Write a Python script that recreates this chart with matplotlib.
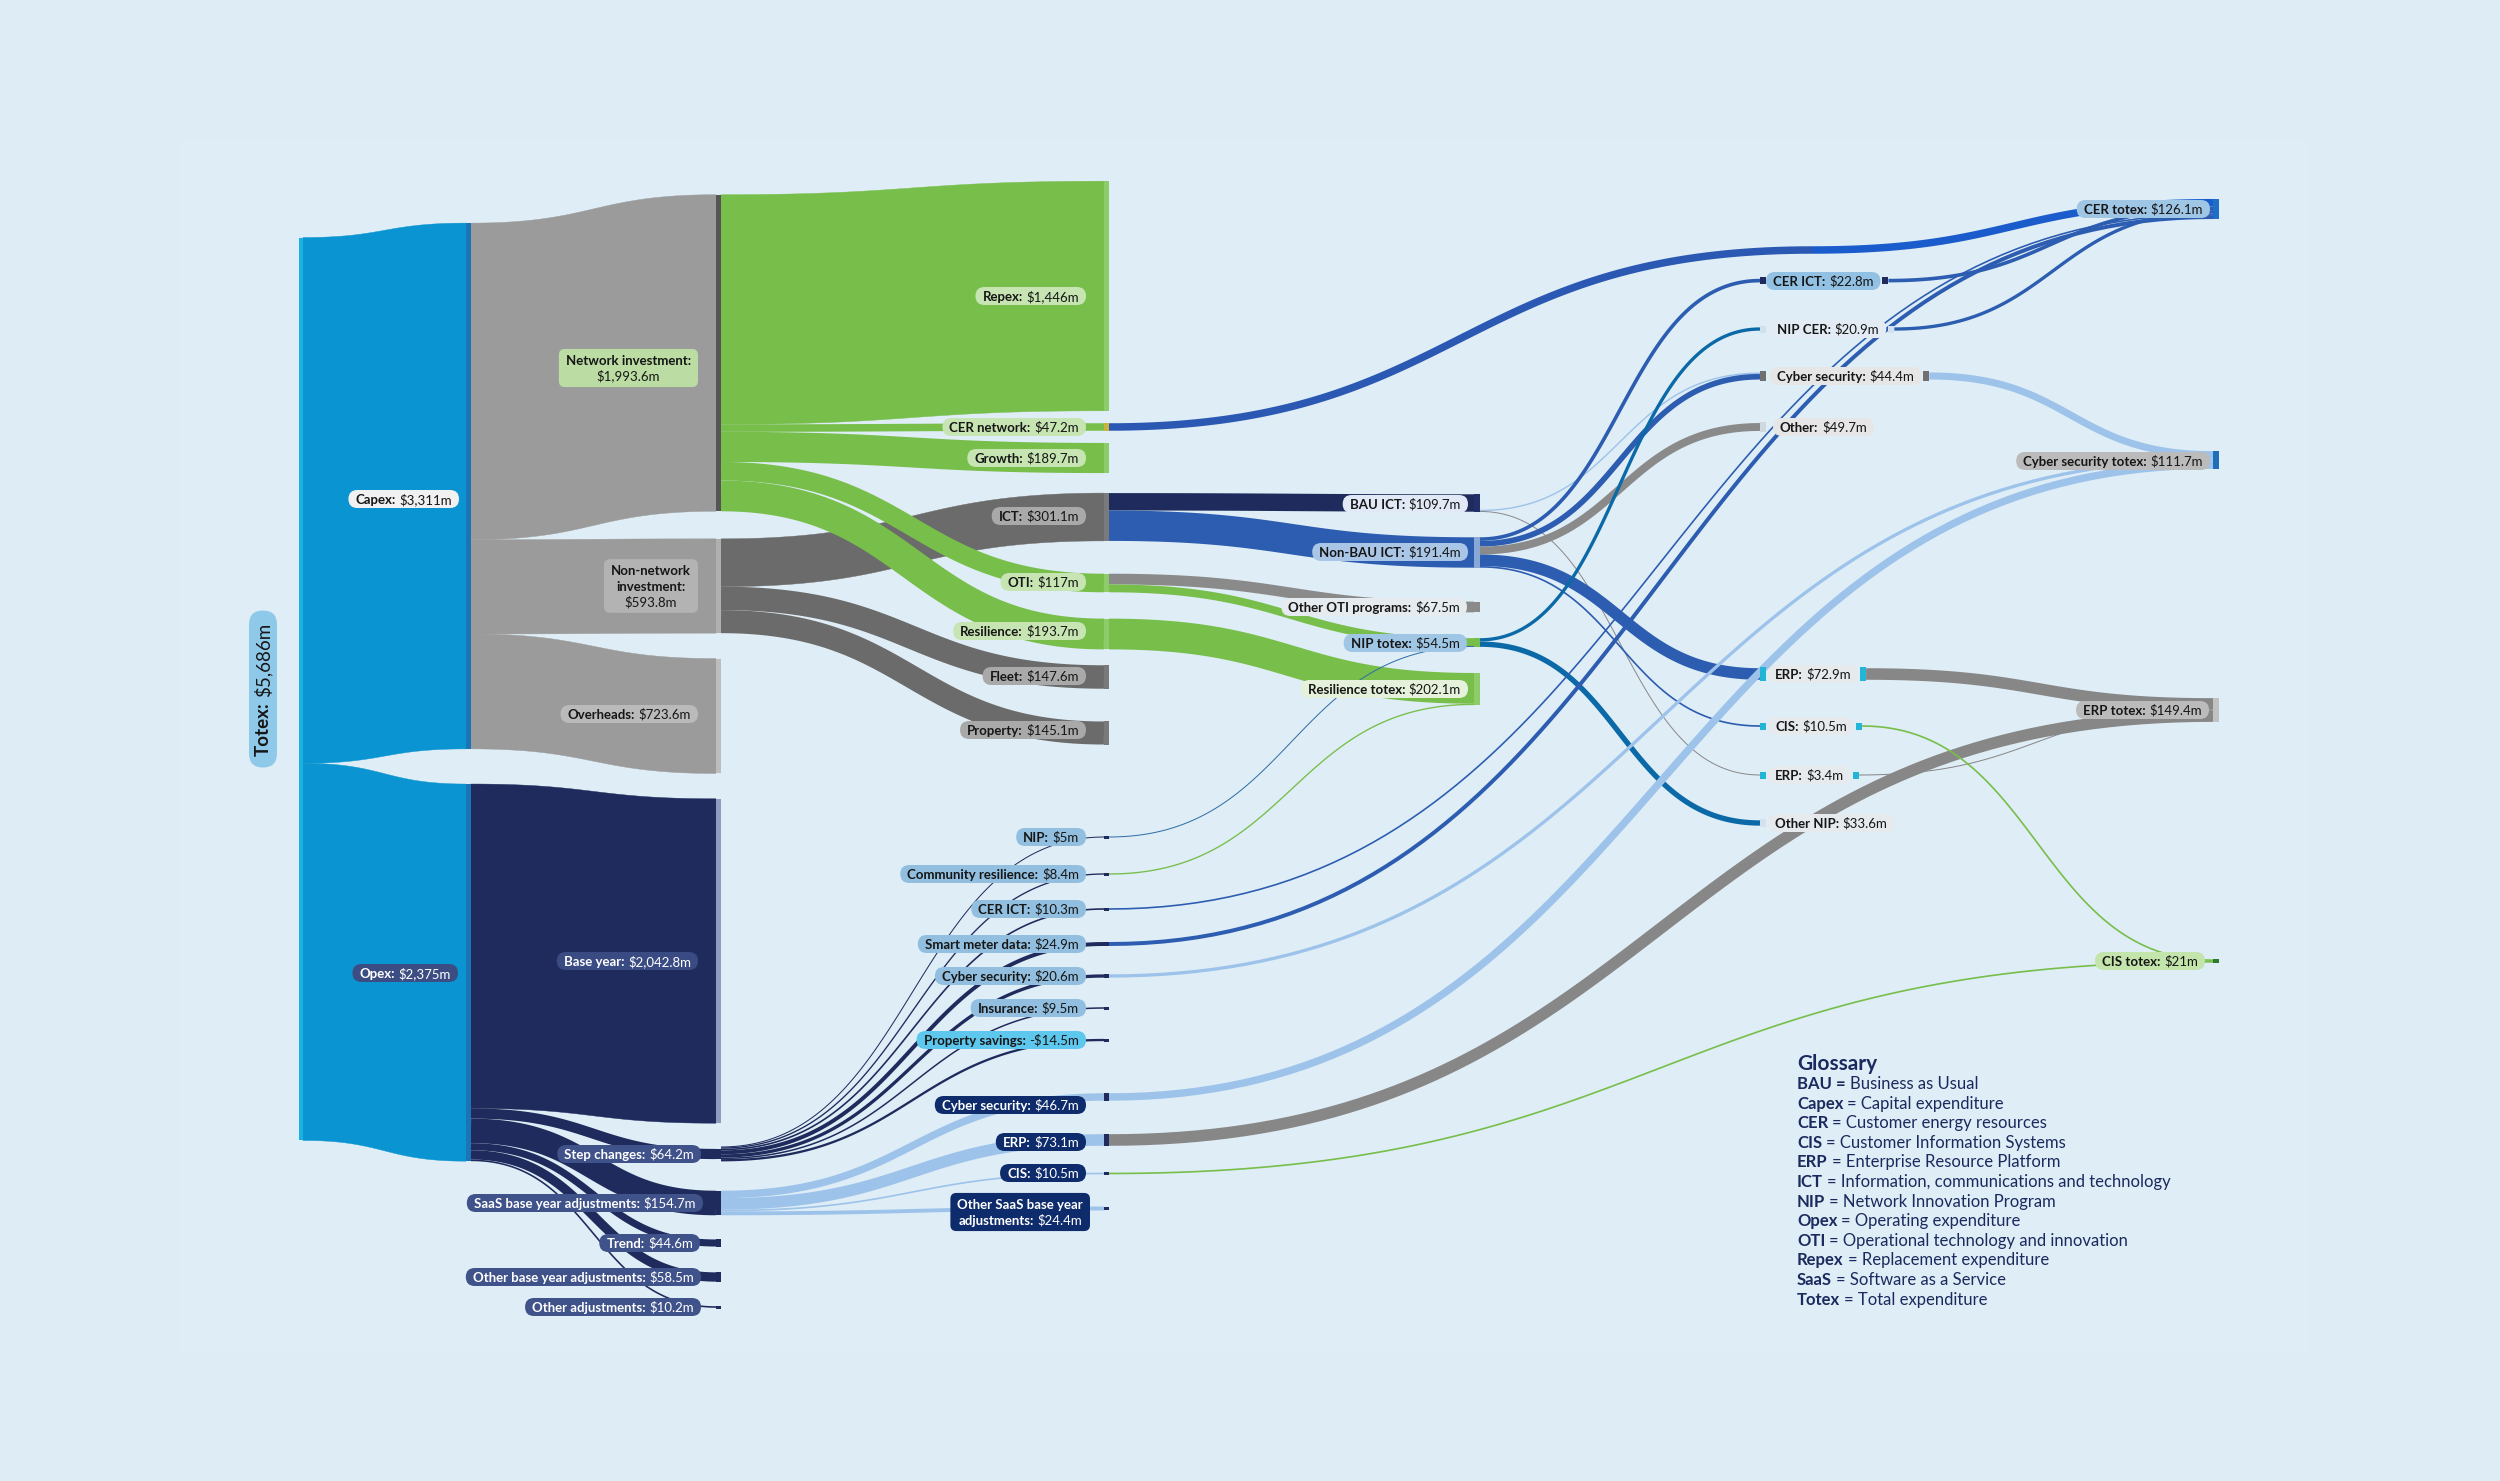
import numpy as np
import matplotlib
matplotlib.use('Agg')
import matplotlib.pyplot as plt
from matplotlib.patches import FancyBboxPatch, Rectangle

plt.rcParams['font.family'] = ['Lato', 'DejaVu Sans']

# ---------------- data ----------------
node_ids = ['totex', 'capex', 'opex',
            'netinv', 'nonnet', 'overheads', 'baseyear', 'step', 'saas', 'trend', 'otherbase', 'otheradj',
            'repex', 'cernet', 'growth', 'ict', 'oti', 'resil', 'fleet', 'property',
            'nip5', 'commres', 'cerict_s', 'smart', 'cyber_s', 'insurance', 'propsav',
            'cyber_saas', 'erp_saas', 'cis_saas', 'othersaas',
            'bau', 'nonbau', 'otheroti', 'niptotex', 'restotex',
            'cerict', 'nipcer', 'cyber_ict', 'other_ict', 'erp_ict', 'cis_ict', 'erp_bau', 'othernip',
            'certotex', 'cybertotex', 'erptotex', 'cistotex']
node_names = ['Totex', 'Capex', 'Opex',
              'Network investment', 'Non-network investment', 'Overheads', 'Base year', 'Step changes',
              'SaaS base year adjustments', 'Trend', 'Other base year adjustments', 'Other adjustments',
              'Repex', 'CER network', 'Growth', 'ICT', 'OTI', 'Resilience', 'Fleet', 'Property',
              'NIP', 'Community resilience', 'CER ICT', 'Smart meter data', 'Cyber security', 'Insurance',
              'Property savings',
              'Cyber security', 'ERP', 'CIS', 'Other SaaS base year adjustments',
              'BAU ICT', 'Non-BAU ICT', 'Other OTI programs', 'NIP totex', 'Resilience totex',
              'CER ICT', 'NIP CER', 'Cyber security', 'Other', 'ERP', 'CIS', 'ERP', 'Other NIP',
              'CER totex', 'Cyber security totex', 'ERP totex', 'CIS totex']
node_values = [5686, 3311, 2375,
               1993.6, 593.8, 723.6, 2042.8, 64.2, 154.7, 44.6, 58.5, 10.2,
               1446, 47.2, 189.7, 301.1, 117, 193.7, 147.6, 145.1,
               5, 8.4, 10.3, 24.9, 20.6, 9.5, -14.5,
               46.7, 73.1, 10.5, 24.4,
               109.7, 191.4, 67.5, 54.5, 202.1,
               22.8, 20.9, 44.4, 49.7, 72.9, 10.5, 3.4, 33.6,
               126.1, 111.7, 149.4, 21]

link_src = ['totex', 'totex',
            'capex', 'capex', 'capex',
            'opex', 'opex', 'opex', 'opex', 'opex', 'opex',
            'nonnet', 'nonnet', 'nonnet',
            'netinv', 'netinv', 'netinv', 'netinv', 'netinv',
            'step', 'step', 'step', 'step', 'step', 'step', 'step',
            'saas', 'saas', 'saas', 'saas',
            'ict', 'ict',
            'oti', 'oti', 'resil', 'commres', 'nip5',
            'bau', 'bau',
            'nonbau', 'nonbau', 'nonbau', 'nonbau', 'nonbau',
            'niptotex', 'niptotex',
            'cernet', 'cerict', 'nipcer', 'cerict_s', 'smart',
            'cyber_ict', 'cyber_s', 'cyber_saas',
            'erp_ict', 'erp_bau', 'erp_saas',
            'cis_ict', 'cis_saas']
link_dst = ['capex', 'opex',
            'netinv', 'nonnet', 'overheads',
            'baseyear', 'step', 'saas', 'trend', 'otherbase', 'otheradj',
            'ict', 'fleet', 'property',
            'repex', 'cernet', 'growth', 'oti', 'resil',
            'nip5', 'commres', 'cerict_s', 'smart', 'cyber_s', 'insurance', 'propsav',
            'cyber_saas', 'erp_saas', 'cis_saas', 'othersaas',
            'bau', 'nonbau',
            'otheroti', 'niptotex', 'restotex', 'restotex', 'niptotex',
            'cyber_ict', 'erp_bau',
            'cerict', 'cyber_ict', 'other_ict', 'erp_ict', 'cis_ict',
            'nipcer', 'othernip',
            'certotex', 'certotex', 'certotex', 'certotex', 'certotex',
            'cybertotex', 'cybertotex', 'cybertotex',
            'erptotex', 'erptotex', 'erptotex',
            'cistotex', 'cistotex']
link_val = [3311, 2375,
            1993.6, 593.8, 723.6,
            2042.8, 64.2, 154.7, 44.6, 58.5, 10.2,
            301.1, 147.6, 145.1,
            1446, 47.2, 189.7, 117, 193.7,
            5, 8.4, 10.3, 24.9, 20.6, 9.5, 14.5,
            46.7, 73.1, 10.5, 24.4,
            109.7, 191.4,
            67.5, 49.5, 193.7, 8.4, 5,
            8.9, 3.4,
            22.8, 35.5, 49.7, 72.9, 10.5,
            20.9, 33.6,
            47.2, 22.8, 20.9, 10.3, 24.9,
            44.4, 20.6, 46.7,
            72.9, 3.4, 73.1,
            10.5, 10.5]

glossary_terms = ['BAU =', 'Capex', 'CER', 'CIS', 'ERP', 'ICT', 'NIP', 'Opex', 'OTI', 'Repex', 'SaaS', 'Totex']
glossary_defs = ['Business as Usual', '= Capital expenditure', '= Customer energy resources',
                 '= Customer Information Systems', '= Enterprise Resource Platform',
                 '= Information, communications and technology', '= Network Innovation Program',
                 '= Operating expenditure', '= Operational technology and innovation',
                 '= Replacement expenditure', '= Software as a Service', '= Total expenditure']

# ---------------- layout / style ----------------
W, H_PX, DPI = 2500, 1481, 100
BG = '#ddecf5'
SCALE = 0.1588          # pixels per $m
col_x = [299, 466, 716, 1104, 1474, 1760, 2213]
col_w = [4, 5, 5, 5, 6, 6, 6]

node_col = {}
for n in ['totex']: node_col[n] = 0
for n in ['capex', 'opex']: node_col[n] = 1
for n in node_ids[3:12]: node_col[n] = 2
for n in node_ids[12:31]: node_col[n] = 3
for n in node_ids[31:36]: node_col[n] = 4
for n in node_ids[36:44]: node_col[n] = 5
for n in node_ids[44:]: node_col[n] = 6

node_cy = {'totex': 689, 'capex': 486, 'opex': 972.6,
           'netinv': 353, 'nonnet': 586, 'overheads': 716, 'baseyear': 961, 'step': 1154,
           'saas': 1203, 'trend': 1243, 'otherbase': 1277, 'otheradj': 1307,
           'repex': 296, 'cernet': 427, 'growth': 458, 'ict': 517, 'oti': 583, 'resil': 634,
           'fleet': 677, 'property': 733,
           'nip5': 837, 'commres': 874, 'cerict_s': 909, 'smart': 944, 'cyber_s': 976,
           'insurance': 1008, 'propsav': 1040,
           'cyber_saas': 1097, 'erp_saas': 1140, 'cis_saas': 1173.5, 'othersaas': 1208.5,
           'bau': 503, 'nonbau': 552.5, 'otheroti': 607, 'niptotex': 642.5, 'restotex': 689,
           'cerict': 280.6, 'nipcer': 329, 'cyber_ict': 376, 'other_ict': 427, 'erp_ict': 674,
           'cis_ict': 726, 'erp_bau': 775, 'othernip': 823,
           'certotex': 209, 'cybertotex': 460, 'erptotex': 710, 'cistotex': 961}
out_align = {'step': 'center', 'bau': 'bottom'}
# long link routed through a point past col5: (x_enter, x_leave, y_centre, colour after it)
waypoint = {('cernet', 'certotex'): (1812, 1812, 250, '#1b5ccc')}

NAVY = '#1f2b5c'
node_color = {'totex': '#19b1e2', 'capex': '#1b74b6', 'opex': '#1b74b6',
              'netinv': '#555555', 'nonnet': '#b0b0b0', 'overheads': '#bdbdbd', 'baseyear': '#8e9cbf',
              'repex': '#8dcc68', 'cernet': '#c8b540', 'growth': '#8dcc68', 'oti': '#8dcc68',
              'resil': '#8dcc68', 'ict': '#7a7a7a', 'fleet': '#7a7a7a', 'property': '#7a7a7a',
              'bau': '#22306a', 'nonbau': '#8aa8d6', 'otheroti': '#8a8a8a', 'niptotex': '#77be4a',
              'restotex': '#8dcc68',
              'cerict': NAVY, 'nipcer': '#cfe0ef', 'cyber_ict': '#707070', 'other_ict': '#cfd8de',
              'erp_ict': '#22b5d5', 'cis_ict': '#22b5d5', 'erp_bau': '#22b5d5', 'othernip': '#d3e2ee',
              'certotex': '#1f6fc8', 'cybertotex': '#1f6fb8', 'erptotex': '#c2c2c2', 'cistotex': '#2d7a2d'}

GREEN, LBLUE, BLUE, GREY = '#77be4a', '#9dc3ea', '#2c5db1', '#878787'
src_color = {'totex': '#0a95d2', 'capex': '#9b9b9b', 'opex': NAVY, 'netinv': GREEN, 'nonnet': '#6b6b6b',
             'step': NAVY, 'saas': LBLUE, 'niptotex': '#0b69a7', 'nonbau': BLUE,
             'resil': GREEN, 'commres': GREEN, 'nip5': '#2f6ea5'}
dst_color = {'certotex': BLUE, 'cybertotex': LBLUE, 'erptotex': GREY, 'cistotex': GREEN}
pair_color = {('ict', 'bau'): NAVY, ('ict', 'nonbau'): BLUE, ('oti', 'otheroti'): '#8a8a8a',
              ('oti', 'niptotex'): GREEN, ('nonbau', 'other_ict'): '#8a8a8a',
              ('bau', 'cyber_ict'): LBLUE, ('bau', 'erp_bau'): '#8a8a8a', ('cernet', 'certotex'): '#2a58b2'}

DARK, WHITE = '#161616', 'white'
PGREEN, PGREY, PBLUE, PNAVY, PSTEP = '#c7e5b2', '#a9a9a9', '#92bfe0', '#0e2c6c', '#3f528a'
label_spec = {
    'capex': (459, 499, 'right', '#f1f1f1', DARK),
    'opex': (458, 973, 'right', '#3c4d84', WHITE),
    'overheads': (698, 714, 'right', '#bababa', DARK),
    'baseyear': (698, 961, 'right', '#3a4a82', WHITE),
    'step': (701, 1154, 'right', PSTEP, WHITE),
    'saas': (703, 1203, 'right', PSTEP, WHITE),
    'trend': (700, 1243, 'right', PSTEP, WHITE),
    'otherbase': (701, 1277, 'right', PSTEP, WHITE),
    'otheradj': (701, 1307, 'right', PSTEP, WHITE),
    'repex': (1086, 296, 'right', PGREEN, DARK),
    'cernet': (1086, 427, 'right', PGREEN, DARK),
    'growth': (1086, 458, 'right', PGREEN, DARK),
    'ict': (1086, 516, 'right', PGREY, DARK),
    'oti': (1086, 582, 'right', PGREEN, DARK),
    'resil': (1086, 631, 'right', PGREEN, DARK),
    'fleet': (1086, 676, 'right', PGREY, DARK),
    'property': (1086, 730, 'right', PGREY, DARK),
    'nip5': (1086, 837, 'right', PBLUE, DARK),
    'commres': (1086, 874, 'right', PBLUE, DARK),
    'cerict_s': (1086, 909, 'right', PBLUE, DARK),
    'smart': (1086, 944, 'right', PBLUE, DARK),
    'cyber_s': (1086, 976, 'right', PBLUE, DARK),
    'insurance': (1086, 1008, 'right', PBLUE, DARK),
    'propsav': (1086, 1040, 'right', '#5ec7ee', DARK),
    'cyber_saas': (1086, 1105, 'right', PNAVY, WHITE),
    'erp_saas': (1086, 1142, 'right', PNAVY, WHITE),
    'cis_saas': (1086, 1173, 'right', PNAVY, WHITE),
    'bau': (1468, 504, 'right', '#e0e9f5', DARK),
    'nonbau': (1468, 552, 'right', '#a9c6e7', DARK),
    'otheroti': (1467, 607, 'right', '#e5ebef', DARK),
    'niptotex': (1467, 643, 'right', '#a0c6e6', DARK),
    'restotex': (1468, 689, 'right', '#e5f1da', DARK),
    'cerict': (1766, 281, 'left', '#92c1e3', DARK),
    'nipcer': (1770, 329, 'left', '#e3ecf4', DARK),
    'cyber_ict': (1770, 376, 'left', '#e6e6e6', DARK),
    'other_ict': (1773, 427, 'left', '#e6e6e6', DARK),
    'erp_ict': (1768, 674, 'left', '#e6eaed', DARK),
    'cis_ict': (1768, 726, 'left', '#e6eaed', DARK),
    'erp_bau': (1768, 775, 'left', '#e6eaed', DARK),
    'othernip': (1768, 823, 'left', '#e6eaed', DARK),
    'certotex': (2210, 209, 'right', '#a0c6e6', DARK),
    'cybertotex': (2210, 461, 'right', '#bbbbbb', DARK),
    'erptotex': (2209, 710, 'right', '#bbbbbb', DARK),
    'cistotex': (2205, 961, 'right', '#c3e4aa', DARK),
}


def fmt(v):
    sign = '-' if v < 0 else ''
    a = abs(v)
    if float(a).is_integer():
        return f"{sign}${a:,.0f}m"
    return f"{sign}${a:,.1f}m"


def bez(x0, y0, x1, y1, n=90):
    t = np.linspace(0, 1, n)
    xm = (x0 + x1) / 2
    X = (1 - t) ** 3 * x0 + 3 * (1 - t) ** 2 * t * xm + 3 * (1 - t) * t ** 2 * xm + t ** 3 * x1
    Y = (1 - t) ** 3 * y0 + 3 * (1 - t) ** 2 * t * y0 + 3 * (1 - t) * t ** 2 * y1 + t ** 3 * y1
    return X, Y


fig = plt.figure(figsize=(W / DPI, H_PX / DPI), dpi=DPI)
fig.patch.set_facecolor(BG)
ax = fig.add_axes([0, 0, 1, 1])
ax.set_xlim(0, W)
ax.set_ylim(H_PX, 0)
ax.axis('off')
ax.add_patch(Rectangle((178, 140), 2130, 1212, fc='#dfedf6', ec='none', zorder=0))
renderer = fig.canvas.get_renderer()


def pill(x, cy, lines, bg, fg, ha='right', size=9.5, padx=7):
    fpx = size * DPI / 72
    cap = 0.72 * fpx
    line_h = 1.18 * fpx
    n = len(lines)
    box_h = 18 if n == 1 else n * line_h + 7
    rows = []
    for i, parts in enumerate(lines):
        base = cy - (n - 1) * line_h / 2 + i * line_h + cap / 2
        objs, widths = [], []
        for txt, wt in parts:
            t = ax.text(0, base, txt, fontsize=size, fontweight=wt, color=fg,
                        ha='left', va='baseline', zorder=8)
            objs.append(t)
            widths.append(t.get_window_extent(renderer).width)
        gap = 0.28 * fpx
        rows.append((objs, widths, sum(widths) + gap * (len(parts) - 1), gap))
    box_w = max(r[2] for r in rows) + 2 * padx
    left = x - box_w if ha == 'right' else (x if ha == 'left' else x - box_w / 2)
    for objs, widths, rw, gap in rows:
        cur = left + (box_w - rw) / 2
        for t, w in zip(objs, widths):
            t.set_x(cur)
            cur += w + gap
    rs = box_h / 2 if n == 1 else 6
    ax.add_patch(FancyBboxPatch((left, cy - box_h / 2), box_w, box_h,
                                boxstyle=f"round,pad=0,rounding_size={rs}",
                                fc=bg, ec='none', zorder=7))
    return left, left + box_w


val = dict(zip(node_ids, node_values))
name = dict(zip(node_ids, node_names))
hgt = {n: abs(v) * SCALE for n, v in val.items()}
top = {n: node_cy[n] - hgt[n] / 2 for n in node_ids}
x_in = {n: col_x[node_col[n]] for n in node_ids}
x_out = {n: col_x[node_col[n]] + col_w[node_col[n]] for n in node_ids}

# ---- labels (col5 node right edge follows its label) ----
pill_right = {}
for n, (lx, ly, ha, bg, fg) in label_spec.items():
    l, r = pill(lx, ly, [[(name[n] + ':', 'bold'), (fmt(val[n]), 'normal')]], bg, fg, ha=ha)
    pill_right[n] = r
for n in node_ids:
    if node_col[n] == 5:
        x_out[n] = pill_right[n] + 8

pill(698, 368, [[('Network investment:', 'bold')], [('$1,993.6m', 'normal')]], '#bbdda3', DARK)
pill(698, 586, [[('Non-network', 'bold')], [('investment:', 'bold')], [(fmt(val['nonnet']), 'normal')]],
     '#b3b3b3', DARK)
pill(1090, 1212, [[('Other SaaS base year', 'bold')], [('adjustments:', 'bold'), (fmt(val['othersaas']), 'normal')]],
     PNAVY, WHITE)

# totex rotated label
tsize = 13.5
tb = ax.text(263, 0, 'Totex:', fontsize=tsize, fontweight='bold', rotation=90, color=DARK,
             ha='center', va='bottom', zorder=8)
tv = ax.text(263, 0, fmt(val['totex']), fontsize=tsize, rotation=90, color=DARK,
             ha='center', va='bottom', zorder=8)
hb = tb.get_window_extent(renderer).height
hv = tv.get_window_extent(renderer).height
gap = 5
total = hb + hv + gap
yb = node_cy['totex'] + total / 2
tb.set_y(yb)
tv.set_y(yb - hb - gap)
ax.add_patch(FancyBboxPatch((263 - 14, node_cy['totex'] - total / 2 - 12), 28, total + 24,
                            boxstyle="round,pad=0,rounding_size=14", fc='#8fc9ea', ec='none', zorder=7))

# ---- link stacking ----
links = list(zip(link_src, link_dst, link_val))


def near_y(s, d, end):
    # y of the other end as seen from this end (waypoint if routed)
    if (s, d) in waypoint:
        return waypoint[(s, d)][2]
    return node_cy[d] if end == 'out' else node_cy[s]


out_off, in_off = {}, {}
for n in node_ids:
    outs = sorted([l for l in links if l[0] == n], key=lambda l: near_y(l[0], l[1], 'out'))
    tot = sum(l[2] for l in outs) * SCALE
    al = out_align.get(n, 'top')
    y = top[n] if al == 'top' else (node_cy[n] - tot / 2 if al == 'center' else top[n] + hgt[n] - tot)
    for l in outs:
        out_off[l] = y
        y += l[2] * SCALE
    ins = sorted([l for l in links if l[1] == n], key=lambda l: near_y(l[0], l[1], 'in'))
    tot = sum(l[2] for l in ins) * SCALE
    y = top[n] if tot <= hgt[n] + 0.5 else node_cy[n] - tot / 2
    for l in ins:
        in_off[l] = y
        y += l[2] * SCALE


def link_color(s, d):
    if (s, d) in pair_color:
        return pair_color[(s, d)]
    if d in dst_color:
        return dst_color[d]
    return src_color.get(s, '#888888')


def band(x0, yc0, x1, yc1, h, c):
    if h > 40:
        Xt, Yt = bez(x0, yc0 - h / 2, x1, yc1 - h / 2)
        Xb, Yb = bez(x0, yc0 + h / 2, x1, yc1 + h / 2)
        ax.fill(np.r_[Xt, Xb[::-1]], np.r_[Yt, Yb[::-1]], fc=c, ec=c, lw=0.3, zorder=2)
    else:
        X, Y = bez(x0, yc0, x1, yc1)
        ax.plot(X, Y, lw=max(h, 1.0) * 72 / DPI, color=c, solid_capstyle='butt', zorder=2)


for l in links:
    s, d, v = l
    h = v * SCALE
    yc0, yc1 = out_off[l] + h / 2, in_off[l] + h / 2
    c = link_color(s, d)
    if (s, d) in waypoint:
        xa, xb, wy, c2 = waypoint[(s, d)]
        band(x_out[s], yc0, xa, wy, h, c)
        if xb > xa:
            ax.plot([xa, xb], [wy, wy], lw=h * 72 / DPI, color=c, solid_capstyle='butt', zorder=2)
        band(xb, wy, x_in[d], yc1, h, c2)
    else:
        band(x_out[s], yc0, x_in[d], yc1, h, c)

# ---- node bars ----
has_out = {l[0] for l in links}
for n in node_ids:
    col = node_col[n]
    c = node_color.get(n, NAVY)
    if col == 5:
        mh = max(hgt[n] + 3, 7)
        ax.add_patch(Rectangle((x_in[n], node_cy[n] - mh / 2), 6, mh, fc=c, ec='none', zorder=3))
        if n in has_out:
            ax.add_patch(Rectangle((x_out[n] - 6, node_cy[n] - mh / 2), 6, mh, fc=c, ec='none', zorder=3))
        continue
    bh = max(hgt[n], 3)
    ax.add_patch(Rectangle((x_in[n], node_cy[n] - bh / 2), col_w[col], bh, fc=c, ec='none', zorder=3))

# ---- glossary ----
GCOL = '#1b2a5e'
gx, gy = 1797, 1062
ax.text(gx, gy + 7.5, 'Glossary', fontsize=15, fontweight='bold', color=GCOL, ha='left', va='baseline')
for i, (term, dfn) in enumerate(zip(glossary_terms, glossary_defs)):
    yy = 1083 + i * 19.6 + 6
    t = ax.text(gx, yy, term, fontsize=12, fontweight='bold', color=GCOL, ha='left', va='baseline')
    w = t.get_window_extent(renderer).width
    ax.text(gx + w + 4, yy, dfn, fontsize=12, color=GCOL, ha='left', va='baseline')

fig.savefig('out.png', dpi=DPI, facecolor=BG)
